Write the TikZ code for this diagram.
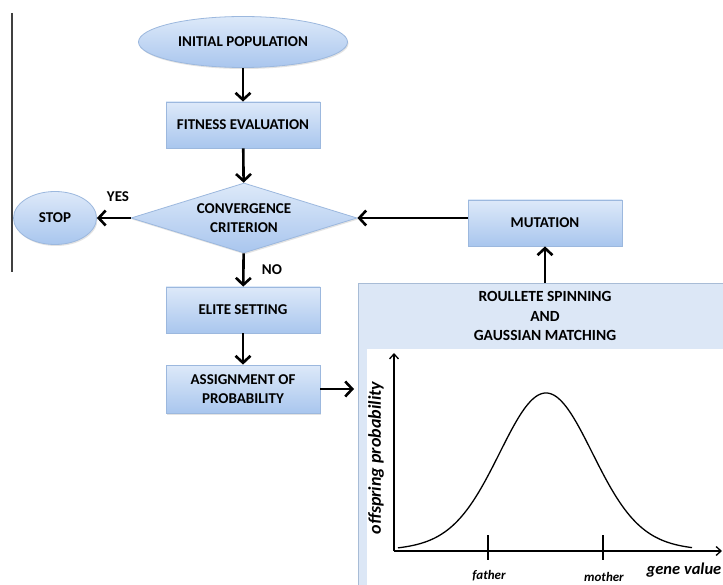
\documentclass[tikz,border=0pt]{standalone}
\usepackage{fontspec}
\setmainfont{Carlito}
\usetikzlibrary{shapes.geometric,arrows.meta,shadows}
\definecolor{boxtop}{HTML}{DDE9F9}
\definecolor{boxbot}{HTML}{A9C6EE}
\definecolor{boxline}{HTML}{9CB8DE}
\definecolor{panel}{HTML}{DCE7F6}
\definecolor{panelline}{HTML}{A8BCD6}

\begin{document}
\begin{tikzpicture}[x=1pt,y=-1pt,
  flow/.style={draw=boxline, line width=0.8pt, top color=boxtop, bottom color=boxbot,
    font=\bfseries\fontsize{15}{19}\selectfont, align=center, inner sep=0pt,
    drop shadow={opacity=0.22,shadow xshift=1pt,shadow yshift=-1.5pt}},
  procbox/.style={flow, rectangle, minimum width=154pt, minimum height=46pt},
  termin/.style={flow, ellipse},
  decide/.style={flow, diamond, aspect=3.2, minimum width=226pt, minimum height=70pt},
  link/.style={line width=2.6pt, -{Straight Barb[length=7pt,width=15pt]}},
  axis/.style={line width=1.3pt, -{Straight Barb[length=5pt,width=9pt]}},
  tag/.style={font=\bfseries\fontsize{15}{19.5}\selectfont},
  gl/.style={font=\bfseries\itshape\fontsize{13}{15}\selectfont},
]
\useasboundingbox (0,0) rectangle (723,585);
\clip (0,0) rectangle (723,585);
\fill[white] (0,0) rectangle (723,585);

% margin rule
\coordinate (rt) at (12,13);
\coordinate (rb) at (12,272);
\draw[line width=1.3pt, black!75] (rt) -- (rb);

% flow chart
\node[termin, minimum width=209pt, minimum height=51pt] (init) at (243,42) {INITIAL POPULATION};
\node[procbox] (fit) at (243,125) {FITNESS EVALUATION};
\node[decide] (conv) at (244,218) {CONVERGENCE\\CRITERION};
\node[termin, minimum width=83pt, minimum height=53pt] (stop) at (55,218) {STOP};
\node[procbox] (elite) at (243,310) {ELITE SETTING};
\node[procbox, minimum height=48pt] (assign) at (243,389) {ASSIGNMENT OF\\PROBABILITY};
\node[procbox] (mut) at (545,223) {MUTATION};

% roulette / gaussian panel
\node[draw=panelline, line width=0.8pt, fill=panel, rectangle, inner sep=0pt,
  minimum width=380pt, minimum height=310pt, anchor=north west] (roul) at (358,283) {};
\fill[white] (367,349) rectangle (730,590);
\node[tag, align=center, font=\bfseries\fontsize{15.5}{19.5}\selectfont] (rtitle) at (545,316) {ROULLETE SPINNING\\AND\\GAUSSIAN MATCHING};

% connectors
\draw[link] (init) -- (fit);
\draw[link] (fit) -- (conv);
\draw[link] (conv) -- (stop);
\draw[link] (conv) -- (elite);
\draw[link] (elite) -- (assign);
\draw[link, shorten >=4pt] (assign) -- (assign -| roul.west);
\draw[link] (roul.north -| mut) -- (mut);
\draw[link] (mut.west |- conv) -- (conv.east);

\node[tag] (yes) at (118,197) {YES};
\node[tag] (no) at (272,270) {NO};

% gaussian plot
\coordinate (o) at (394,551);
\coordinate (ytop) at (394,353);
\coordinate (xend) at (722,551);
\draw[axis] (o) -- (ytop);
\draw[axis] (o) -- (xend);
\draw[line width=1.3pt] plot[domain=398:692,samples=150]
  (\x,{551-158*(0.85*exp(-((\x-546)/45)^2/2)+0.15*exp(-((\x-546)/70)^2/2))});
\coordinate (ft) at (488,535);
\coordinate (fb) at (488,560);
\coordinate (mt) at (603,535);
\coordinate (mb) at (603,560);
\draw[line width=1.3pt] (ft) -- (fb);
\draw[line width=1.3pt] (mt) -- (mb);
\node[gl] (father) at (489,576) {father};
\node[gl] (mother) at (604,577) {mother};
\node[gl, font=\bfseries\itshape\fontsize{16.5}{18}\selectfont] (gene) at (684,570) {gene value};
\node[gl, font=\bfseries\itshape\fontsize{18}{20}\selectfont, rotate=90] (ylab) at (376,458) {offspring probability};
\end{tikzpicture}
\end{document}
